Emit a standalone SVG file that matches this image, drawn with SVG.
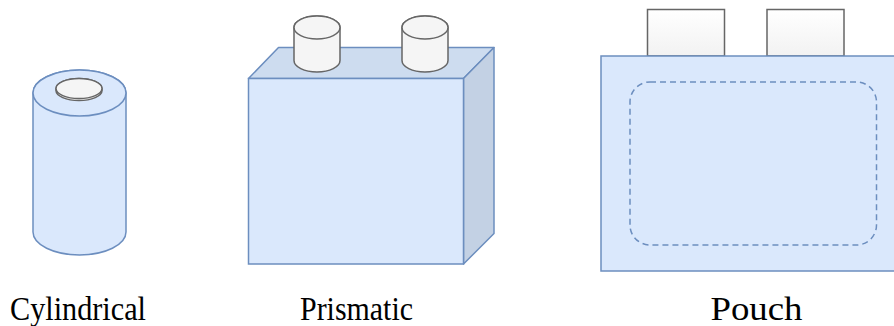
<svg xmlns="http://www.w3.org/2000/svg" width="894" height="326" viewBox="0 0 894 326">
  <defs>
    <style>
      .body { fill: #dae8fc; stroke: #6c8ebf; stroke-width: 1.5; }
      .top { fill: #cddcef; stroke: #6c8ebf; stroke-width: 1.5; stroke-linejoin: round; }
      .side { fill: #c3d1e4; stroke: #6c8ebf; stroke-width: 1.5; stroke-linejoin: round; }
      .term { fill: #f5f5f5; stroke: #666666; stroke-width: 1.5; }
      .tab { fill: url(#tabGrad); stroke: #666666; stroke-width: 1.5; }
      .seal { fill: none; stroke: #6c8ebf; stroke-width: 1.5; stroke-dasharray: 6 4; }
      .label { font-family: "Liberation Serif", "Times New Roman", serif; font-size: 33px; fill: #000000; }
    </style>
    <linearGradient id="tabGrad" x1="0" y1="0" x2="0" y2="1">
      <stop offset="0" stop-color="#ffffff"/>
      <stop offset="1" stop-color="#f2f2f2"/>
    </linearGradient>
  </defs>

  <!-- Cylindrical cell -->
  <g id="cylindrical">
    <path class="body" d="M33 93 L33 232 A46.5 23 0 0 0 126 232 L126 93 A46.5 23 0 0 0 33 93 Z"/>
    <ellipse class="body" cx="79.5" cy="93" rx="46.5" ry="23"/>
    <path class="term" d="M56 88.5 L56 90.5 A23 10 0 0 0 102 90.5 L102 88.5 A23 10 0 0 0 56 88.5 Z"/>
    <ellipse class="term" cx="79" cy="88.5" rx="23" ry="10"/>
    <text class="label" x="10" y="319.5" textLength="136" lengthAdjust="spacingAndGlyphs">Cylindrical</text>
  </g>

  <!-- Prismatic cell -->
  <g id="prismatic">
    <polygon class="top" points="248.5,78.5 278.5,47.5 494,47.5 463.5,78.5"/>
    <polygon class="side" points="463.5,78.5 494,47.5 494,233.5 463.5,264"/>
    <g id="prismatic-terminal-left">
      <path class="term" d="M294 27.5 L294 60.5 A23 11.5 0 0 0 340 60.5 L340 27.5 A23 11.5 0 0 0 294 27.5 Z"/>
      <ellipse class="term" cx="317" cy="27.5" rx="23" ry="11.5"/>
    </g>
    <g id="prismatic-terminal-right">
      <path class="term" d="M402 27.5 L402 60.5 A23 11.5 0 0 0 448 60.5 L448 27.5 A23 11.5 0 0 0 402 27.5 Z"/>
      <ellipse class="term" cx="425" cy="27.5" rx="23" ry="11.5"/>
    </g>
    <rect class="body" x="248.5" y="78.5" width="215" height="185.5"/>
    <text class="label" x="300" y="319.5" textLength="113" lengthAdjust="spacingAndGlyphs">Prismatic</text>
  </g>

  <!-- Pouch cell -->
  <g id="pouch">
    <rect class="tab" x="647.5" y="9.5" width="77" height="46.5"/>
    <rect class="tab" x="767" y="9.5" width="77" height="46.5"/>
    <rect class="body" x="601" y="56" width="300" height="215"/>
    <rect class="seal" x="630" y="82" width="246.5" height="163" rx="20" ry="20"/>
    <text class="label" x="710.5" y="319.5" textLength="92" lengthAdjust="spacingAndGlyphs">Pouch</text>
  </g>

  <g id="connectors"/>
</svg>
